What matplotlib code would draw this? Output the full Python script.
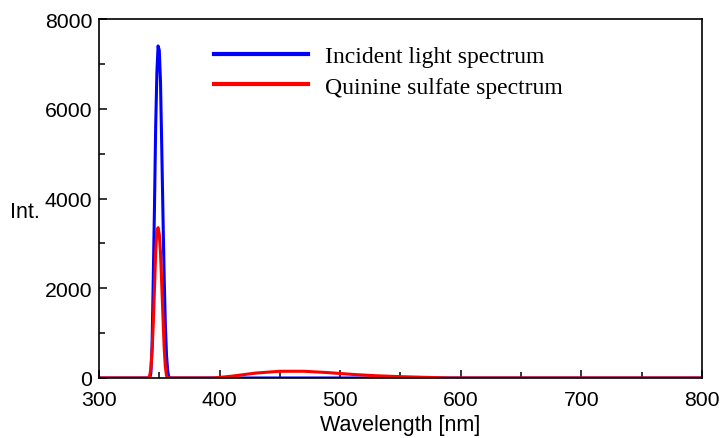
import matplotlib
matplotlib.use("Agg")
import matplotlib.pyplot as plt
from matplotlib.ticker import MultipleLocator

# Incident light spectrum (excitation line)
incident_nm = [300, 340, 342, 343, 344, 345, 346, 347, 348, 349, 350, 351, 352,
               353, 354, 355, 356, 357, 358, 360, 800]
incident_int = [0, 0, 0, 100, 700, 2200, 3800, 5600, 6800, 7400, 7300, 6600, 5200,
                3700, 2300, 1200, 500, 150, 0, 0, 0]

# Quinine sulfate spectrum (scatter peak + fluorescence hump)
quinine_nm = [300, 341, 342, 343, 344, 345, 346, 347, 348, 349, 350, 351, 352,
              353, 354, 355, 356, 357, 395, 410, 430, 450, 470, 490, 510, 530,
              550, 570, 590, 800]
quinine_int = [0, 0, 50, 200, 600, 1200, 2000, 2800, 3300, 3350, 3200, 2800, 2100,
               1400, 700, 250, 50, 0, 0, 40, 110, 150, 150, 120, 80, 50,
               30, 15, 0, 0]

fig = plt.figure(figsize=(7.21, 4.39), dpi=100)
ax = fig.add_axes([0.1373, 0.1367, 0.8363, 0.8177])

ax.plot(incident_nm, incident_int, color="#0000ff", lw=2.2, label="Incident light spectrum")
ax.plot(quinine_nm, quinine_int, color="#ff0000", lw=2.2, label="Quinine sulfate spectrum")

ax.set_xlim(300, 800)
ax.set_ylim(0, 8000)
ax.xaxis.set_major_locator(MultipleLocator(100))
ax.xaxis.set_minor_locator(MultipleLocator(50))
ax.yaxis.set_major_locator(MultipleLocator(2000))
ax.yaxis.set_minor_locator(MultipleLocator(1000))
ax.tick_params(which="both", direction="in", labelsize=15.3, width=1.1)
ax.tick_params(which="major", length=6)
ax.tick_params(which="minor", length=4)
ax.tick_params(axis="x", which="major", pad=8.5)
ax.tick_params(axis="y", which="major", pad=5)
for lab in ax.get_xticklabels() + ax.get_yticklabels():
    lab.set_family("Liberation Sans")
for s in ax.spines.values():
    s.set_linewidth(1.2)

ax.set_xlabel("Wavelength [nm]", fontsize=15.5, family="Liberation Sans", labelpad=3.5)
fig.text(0.014, 0.515, "Int.", fontsize=15.5, family="Liberation Sans", va="center")

leg = ax.legend(loc="upper left", bbox_to_anchor=(0.155, 0.985), frameon=False,
                prop={"family": "Liberation Serif", "size": 17},
                handlelength=4.0, handletextpad=0.7, labelspacing=0.38)
for line in leg.get_lines():
    line.set_linewidth(3)

fig.savefig("out.png", dpi=100)
